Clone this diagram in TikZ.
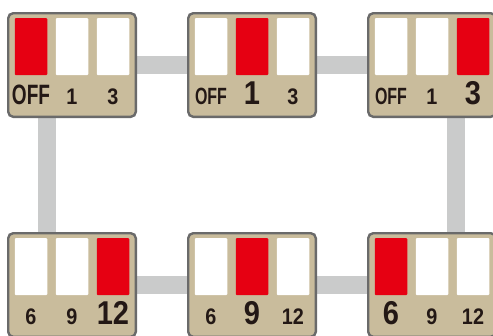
\documentclass[tikz,border=0pt]{standalone}
\usepackage{fontspec}
\setmainfont{Liberation Sans}
\newfontfamily\cond[FakeStretch=0.68]{Liberation Sans}
\newfontfamily\digf[FakeStretch=0.88]{Liberation Sans}
\newcommand\offsm{\cond\bfseries\fontsize{23.5}{23.5}\selectfont}
\newcommand\offbg{\cond\bfseries\fontsize{28}{28}\selectfont}
\definecolor{swred}{HTML}{E60012}
\definecolor{tan}{HTML}{C9BC9C}
\definecolor{rim}{HTML}{6A6A6A}
\definecolor{bar}{HTML}{CACBCB}
\definecolor{ink}{HTML}{231815}
\tikzset{
  box/.style={draw=rim, fill=tan, line width=2.4pt, rounded corners=5pt,
    minimum width=127.6pt, minimum height=103.6pt, inner sep=0pt},
  slot/.style={fill=white, rounded corners=1pt, minimum width=32.5pt,
    minimum height=57pt, inner sep=0pt},
  lab/.style={text=ink, inner sep=0pt, anchor=base},
  small/.style={font=\digf\bfseries\fontsize{22.5}{22.5}\selectfont},
  big/.style={font=\digf\bfseries\fontsize{33}{33}\selectfont},
  link/.style={draw=bar, line width=18pt}
}
\newcommand\dipsw[7]{%
  \node[box] (#1) at (#2) {};
  \foreach \i/\dx/\lab in {1/-41/{#4},2/0/{#5},3/41/{#6}}{%
    \ifnum\i=#3\relax\def\fc{swred}\else\def\fc{white}\fi
    \ifnum\i=#7\relax\def\sz{big}\else\def\sz{small}\fi
    \node[slot, fill=\fc] (#1s\i) at ([shift={(\dx,-18.5)}]#1.center) {};
    \node[lab, \sz] (#1l\i) at ([shift={(\dx,39)}]#1.center) {\lab};
  }%
}
\begin{document}
\begin{tikzpicture}[x=1pt,y=-1pt]
\useasboundingbox (0,0) rectangle (493,335);
\clip (0,0) rectangle (493,335);
\coordinate (p1) at (72,65);
\coordinate (p2) at (252,65);
\coordinate (p3) at (432,65);
\coordinate (p4) at (72,285);
\coordinate (p5) at (252,285);
\coordinate (p6) at (432,285);
% connectors
\draw[link] (p1) -- (p2);
\draw[link] (p2) -- (p3);
\draw[link] (p4) -- (p5);
\draw[link] (p5) -- (p6);
\draw[link] ([xshift=-25pt]p1) -- ([xshift=-25pt]p4);
\draw[link] ([xshift=24pt]p3) -- ([xshift=24pt]p6);
% switches
\dipsw{b1}{p1}{1}{\offbg OFF}{1}{3}{1}
\dipsw{b2}{p2}{2}{\offsm OFF}{1}{3}{2}
\dipsw{b3}{p3}{3}{\offsm OFF}{1}{3}{3}
\dipsw{b4}{p4}{3}{6}{9}{12}{3}
\dipsw{b5}{p5}{2}{6}{9}{12}{2}
\dipsw{b6}{p6}{1}{6}{9}{12}{1}
\end{tikzpicture}
\end{document}
